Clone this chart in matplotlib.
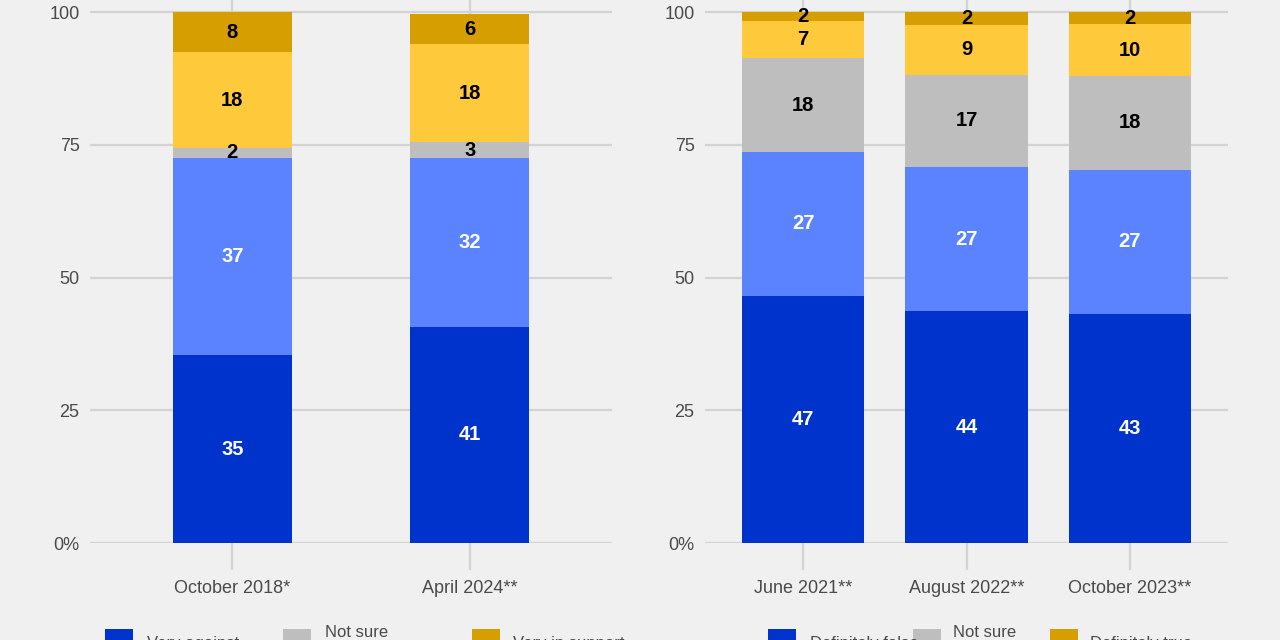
import numpy as np

import matplotlib
matplotlib.use("Agg")
import matplotlib.pyplot as plt
from matplotlib.patches import Rectangle

plt.rcParams["font.family"] = ["Liberation Sans", "DejaVu Sans"]

BG = "#f0f0f0"
GRID = "#d3d3d3"
TICK_TXT = "#4a4a4a"

colors = ["#0033cc", "#5b82ff", "#bebebe", "#ffc93c", "#d69e00"]
label_colors = ["white", "white", "black", "black", "black"]

# left panel
left_waves = ["October 2018*", "April 2024**"]
left_cats = ["Very against", "Somewhat against", "Not sure",
             "Somewhat in support", "Very in support"]
left_vals = [
    [35.4, 40.7],
    [37.1, 31.8],
    [1.9, 3.0],
    [18.0, 18.4],
    [7.6, 5.7],
]

# right panel
right_waves = ["June 2021**", "August 2022**", "October 2023**"]
right_cats = ["Definitely false", "Probably false", "Not sure",
              "Probably true", "Definitely true"]
right_vals = [
    [46.6, 43.6, 43.1],
    [27.0, 27.3, 27.2],
    [17.7, 17.3, 17.6],
    [7.0, 9.4, 9.8],
    [1.7, 2.4, 2.3],
]

W, H = 1280, 640
fig = plt.figure(figsize=(W / 100, H / 100), dpi=100, facecolor=BG)


def px_rect(x0, x1, y_top, y_bot):
    return [x0 / W, 1 - y_bot / H, (x1 - x0) / W, (y_bot - y_top) / H]


def stacked(ax, waves, vals, width):
    x = np.arange(len(waves))
    bottom = np.zeros(len(waves))
    for i, v in enumerate(vals):
        v = np.array(v)
        ax.bar(x, v, width, bottom=bottom, color=colors[i], zorder=2)
        for xi, b, h in zip(x, bottom, v):
            ax.text(xi, b + h / 2, f"{h:.0f}", ha="center", va="center",
                    fontsize=14.5, fontweight="bold", color=label_colors[i],
                    zorder=3)
        bottom += v
    ax.set_facecolor(BG)
    for s in ax.spines.values():
        s.set_visible(False)
    ax.set_xticks(x, waves)
    ax.set_xlim(-0.6, len(waves) - 0.4)
    ax.set_ylim(0, 102.26)
    ax.set_yticks([0, 25, 50, 75, 100], ["0%", "25", "50", "75", "100"])
    ax.grid(True, color=GRID, linewidth=1.6, zorder=0)
    ax.set_axisbelow(True)
    ax.tick_params(axis="x", length=19.5, width=1.6, color=GRID, pad=7,
                   labelsize=13, labelcolor=TICK_TXT)
    ax.tick_params(axis="y", length=0, pad=7.5, labelsize=13,
                   labelcolor=TICK_TXT)


ax1 = fig.add_axes(px_rect(90, 612, 0, 543))
stacked(ax1, left_waves, left_vals, 0.5)
ax2 = fig.add_axes(px_rect(705, 1228, 0, 543))
stacked(ax2, right_waves, right_vals, 0.75)


# legends (only the first row falls inside the picture, cut like the original)
def legend_row(cats, key_x, text_x):
    for k, i in enumerate([0, 2, 4]):
        fig.add_artist(Rectangle((key_x[k] / W, 1 - 657 / H), 28 / W, 28 / H,
                                 transform=fig.transFigure,
                                 facecolor=colors[i], edgecolor="none"))
        top = 625 if cats[i] == "Not sure" else 636
        fig.text(text_x[k] / W, 1 - top / H, cats[i], ha="left", va="top",
                 fontsize=12, color=TICK_TXT)


legend_row(left_cats, [105, 283, 472], [147, 325, 513])
legend_row(right_cats, [768, 913, 1050], [810, 953, 1090])

fig.savefig("out.png", dpi=100, facecolor=BG)
